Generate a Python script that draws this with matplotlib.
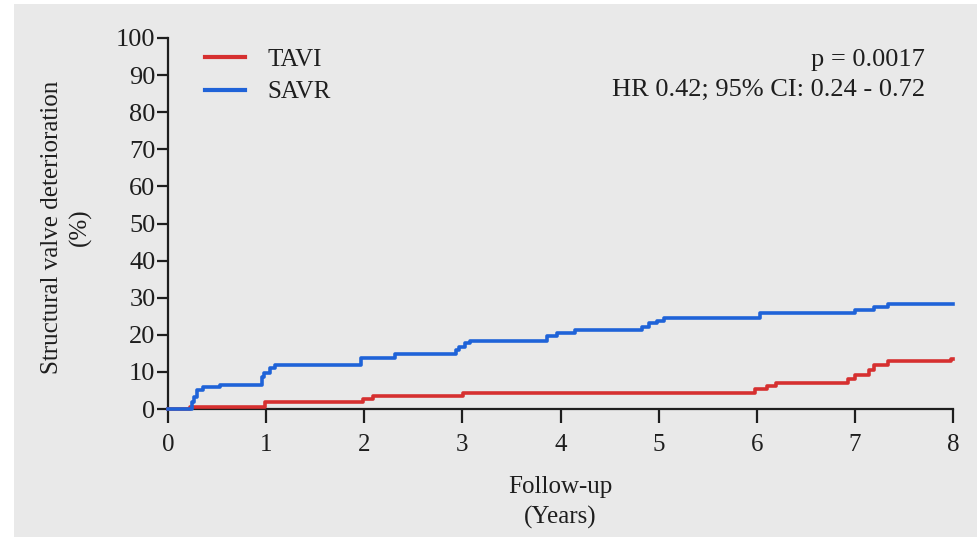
import matplotlib

matplotlib.use("Agg")
import matplotlib.pyplot as plt
from matplotlib.patches import Rectangle

plt.rcParams.update({
    "font.family": "Liberation Serif",
    "font.size": 18,
})

# cumulative incidence of SVD, step curves
tavi_years = [0, 0.22, 0.99, 1.99, 2.09, 3.01, 5.98, 6.10, 6.20, 6.93, 7.00,
              7.14, 7.20, 7.34, 7.98, 8.0]
tavi_pct = [0, 0.5, 2.0, 2.7, 3.5, 4.2, 5.3, 6.2, 7.1, 8.0, 9.2,
            10.5, 11.9, 12.9, 13.5, 13.5]

savr_years = [0, 0.24, 0.27, 0.30, 0.36, 0.53, 0.955, 0.98, 1.04, 1.09, 1.97,
              2.31, 2.94, 2.97, 3.03, 3.08, 3.86, 3.96, 4.15, 4.83, 4.90, 4.98,
              5.05, 6.03, 7.00, 7.20, 7.34, 8.0]
savr_pct = [0, 2.0, 3.3, 5.1, 6.0, 6.5, 8.5, 9.6, 11.0, 11.9, 13.7,
            14.8, 15.8, 16.8, 17.7, 18.4, 19.7, 20.4, 21.3, 22.2, 23.1, 23.8,
            24.4, 26.0, 26.7, 27.6, 28.3, 28.3]

x_ticks = list(range(0, 9))
y_ticks = list(range(0, 101, 10))

RED = "#d63030"
BLUE = "#1f63d8"
BG = "#e9e9e9"
INK = "#1e1e1e"

fig = plt.figure(figsize=(9.78, 5.37), dpi=100, facecolor="white")
fig.patches.append(Rectangle((14 / 978, 0), 1, 1 - 4 / 537, transform=fig.transFigure,
                             facecolor=BG, edgecolor="none", zorder=-10))
ax = fig.add_axes([168 / 978, 1 - 409 / 537, (953 - 168) / 978, (409 - 38) / 537])
ax.set_facecolor("none")

ax.step(tavi_years, tavi_pct, where="post", color=RED, linewidth=2.6,
        label="TAVI", zorder=5, clip_on=False)
ax.step(savr_years, savr_pct, where="post", color=BLUE, linewidth=2.6,
        label="SAVR", zorder=5, clip_on=False)

ax.set_xlim(0, 8)
ax.set_ylim(0, 100)
ax.set_xticks(x_ticks)
ax.set_yticks(y_ticks)
for s in ("top", "right"):
    ax.spines[s].set_visible(False)
for s in ("left", "bottom"):
    ax.spines[s].set_linewidth(1.6)
    ax.spines[s].set_color(INK)
ax.tick_params(axis="y", length=8, width=1.6, color=INK, labelcolor=INK,
               labelsize=19, pad=1)
ax.tick_params(axis="x", length=10, width=1.6, color=INK, labelcolor=INK,
               labelsize=18, pad=8)

ax.set_xlabel("Follow-up\n(Years)", fontsize=18, linespacing=1.45, color=INK)
ax.xaxis.set_label_coords(0.5, -0.18)
ax.set_ylabel("Structural valve deterioration\n(%)", fontsize=18, linespacing=1.3,
              color=INK)
ax.yaxis.set_label_coords(-0.097, 0.49)

leg = ax.legend(loc="upper left", bbox_to_anchor=(0.047, 0.972), frameon=False,
                fontsize=18, handlelength=1.6, handletextpad=0.9, labelspacing=0.4,
                borderpad=0, borderaxespad=0)
for line in leg.get_lines():
    line.set_linewidth(3)
for t in leg.get_texts():
    t.set_color(INK)

ax.text(0.964, 0.97, "p = 0.0017\nHR 0.42; 95% CI: 0.24 - 0.72", transform=ax.transAxes,
        ha="right", va="top", fontsize=19, linespacing=1.45, multialignment="right",
        color=INK)

fig.savefig("out.png", dpi=100, facecolor=fig.get_facecolor())
